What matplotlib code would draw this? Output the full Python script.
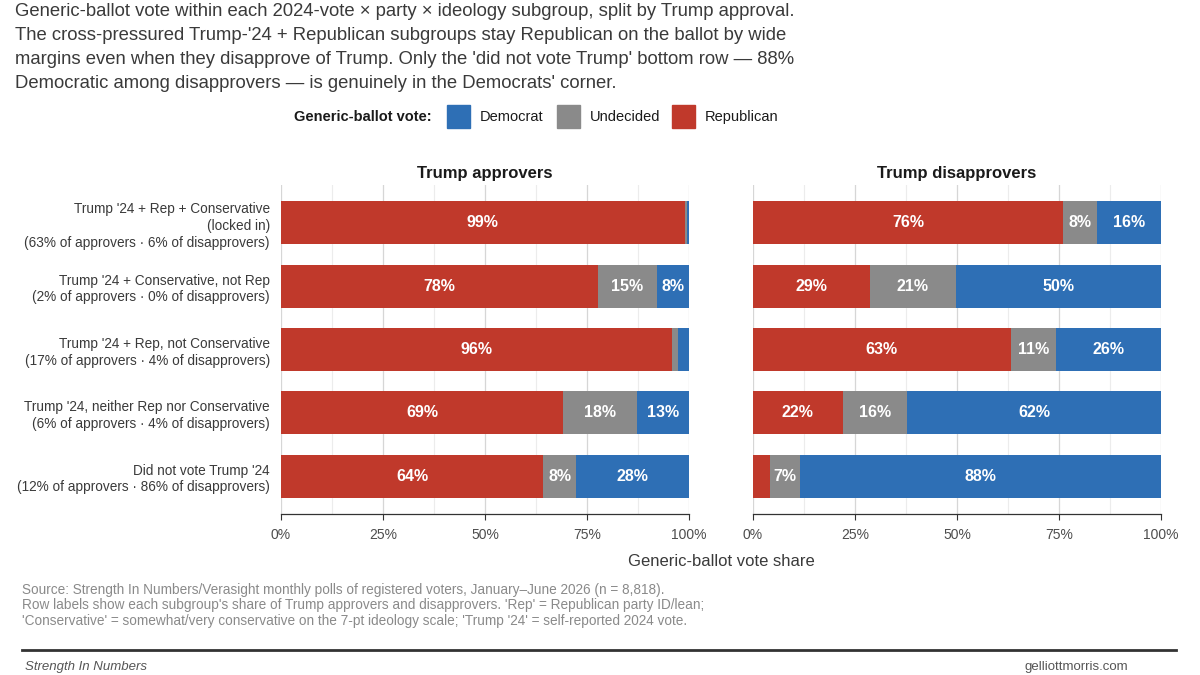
import numpy as np
import matplotlib.pyplot as plt
from matplotlib.patches import Rectangle
from matplotlib.lines import Line2D

plt.rcParams['font.family'] = ['Liberation Sans', 'DejaVu Sans']

# filas (de arriba a abajo)
row_labels = [
    "Trump '24 + Rep + Conservative\n(locked in)\n(63% of approvers · 6% of disapprovers)",
    "Trump '24 + Conservative, not Rep\n(2% of approvers · 0% of disapprovers)",
    "Trump '24 + Rep, not Conservative\n(17% of approvers · 4% of disapprovers)",
    "Trump '24, neither Rep nor Conservative\n(6% of approvers · 4% of disapprovers)",
    "Did not vote Trump '24\n(12% of approvers · 86% of disapprovers)",
]
panels = ['Trump approvers', 'Trump disapprovers']

# porcentajes por panel: republicano, indeciso, demócrata
rep_approve = [98.9, 77.6, 95.8, 69.2, 64.3]
und_approve = [0.5, 14.6, 1.6, 18.1, 8.0]
dem_approve = [0.6, 7.8, 2.6, 12.7, 27.7]

rep_disapprove = [76.1, 28.6, 63.2, 22.0, 4.2]
und_disapprove = [8.3, 21.2, 11.1, 15.7, 7.4]
dem_disapprove = [15.6, 50.2, 25.7, 62.3, 88.4]

series_names = ['Democrat', 'Undecided', 'Republican']
colors = {'Republican': '#c0392b', 'Undecided': '#8a8a8a', 'Democrat': '#2e6fb5'}

ticks = [0, 25, 50, 75, 100]
tick_labels = ['0%', '25%', '50%', '75%', '100%']

W, H = 1200, 675
fig = plt.figure(figsize=(12, 6.75), dpi=100)

def fx(px):
    return px / W

def fy(py):
    return 1 - py / H

panel_data = [
    (rep_approve, und_approve, dem_approve),
    (rep_disapprove, und_disapprove, dem_disapprove),
]
lefts = [281, 753]
top, bottom = 185, 514
pw = 408

y = np.arange(len(row_labels))
for k, (rep, und, dem) in enumerate(panel_data):
    ax = fig.add_axes([fx(lefts[k]), fy(bottom), pw / W, (bottom - top) / H])
    ax.set_xlim(0, 100)
    ax.set_ylim(len(row_labels) - 0.4, -0.6)
    rep = np.array(rep); und = np.array(und); dem = np.array(dem)
    segs = [(rep, np.zeros_like(rep), 'Republican'),
            (und, rep, 'Undecided'),
            (dem, rep + und, 'Democrat')]
    for vals, start, name in segs:
        ax.barh(y, vals, left=start, height=0.68, color=colors[name], zorder=3)
        for yi, v, s in zip(y, vals, start):
            if v >= 5:
                ax.text(s + v / 2, yi, f'{v:.0f}%', ha='center', va='center',
                        color='white', fontsize=11.5, fontweight='bold', zorder=4)
    ax.set_xticks(ticks)
    ax.set_xticklabels(tick_labels)
    ax.set_xticks([12.5, 37.5, 62.5, 87.5], minor=True)
    ax.grid(axis='x', which='major', color='#d6d6d6', lw=0.9, zorder=0)
    ax.grid(axis='x', which='minor', color='#ececec', lw=0.8, zorder=0)
    ax.tick_params(axis='x', which='major', length=4, color='#333333', labelsize=10,
                   labelcolor='#4d4d4d', pad=6)
    ax.tick_params(axis='x', which='minor', length=0)
    ax.tick_params(axis='y', length=0)
    for sp in ['top', 'right', 'left']:
        ax.spines[sp].set_visible(False)
    ax.spines['bottom'].set_color('#333333')
    ax.spines['bottom'].set_linewidth(0.9)
    ax.set_yticks(y)
    if k == 0:
        ax.set_yticklabels(row_labels, fontsize=9.8, color='#3a3a3a', linespacing=1.25)
        ax.tick_params(axis='y', pad=8)
    else:
        ax.set_yticklabels([])
    ax.set_title(panels[k], fontsize=12, fontweight='bold', color='#1a1a1a', pad=5)

# subtítulo
subtitle = [
    "Generic-ballot vote within each 2024-vote × party × ideology subgroup, split by Trump approval.",
    "The cross-pressured Trump-'24 + Republican subgroups stay Republican on the ballot by wide",
    "margins even when they disapprove of Trump. Only the 'did not vote Trump' bottom row — 88%",
    "Democratic among disapprovers — is genuinely in the Democrats' corner.",
]
for i, line in enumerate(subtitle):
    fig.text(fx(15), fy(12 + 24 * i), line, fontsize=13.3, color='#3a3a3a', va='center')

# leyenda
fig.text(fx(432), fy(117), 'Generic-ballot vote:', fontsize=10.5, fontweight='bold',
         ha='right', va='center', color='#1a1a1a')
box_x = [447, 557, 672]
for bx, name in zip(box_x, series_names):
    fig.patches.append(Rectangle((fx(bx), fy(128)), 23 / W, 23 / H,
                                 transform=fig.transFigure, color=colors[name]))
    fig.text(fx(bx + 33), fy(117), name, fontsize=10.5, va='center', color='#1a1a1a')

fig.text(fx(721), fy(561), 'Generic-ballot vote share', fontsize=12, ha='center',
         va='center', color='#3a3a3a')

caption = [
    "Source: Strength In Numbers/Verasight monthly polls of registered voters, January–June 2026 (n = 8,818).",
    "Row labels show each subgroup's share of Trump approvers and disapprovers. 'Rep' = Republican party ID/lean;",
    "'Conservative' = somewhat/very conservative on the 7-pt ideology scale; 'Trump '24' = self-reported 2024 vote.",
]
for i, line in enumerate(caption):
    fig.text(fx(22), fy(590 + 15.5 * i), line, fontsize=9.8, color='#8a8a8a', va='center')

fig.lines.append(Line2D([fx(22), fx(1176)], [fy(650), fy(650)], transform=fig.transFigure,
                        color='#333333', lw=2))
fig.text(fx(25), fy(667), 'Strength In Numbers', fontsize=9.5, style='italic',
         color='#555555', va='center')
fig.text(fx(1128), fy(667), 'gelliottmorris.com', fontsize=9.5, color='#555555',
         va='center', ha='right')

fig.savefig('out.png', dpi=100)
